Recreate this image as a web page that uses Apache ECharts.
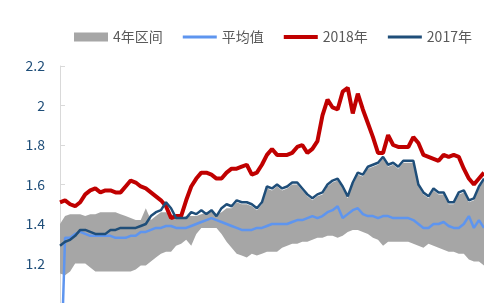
<!DOCTYPE html>
<html>
<head>
<meta charset="utf-8">
<script src="https://cdn.jsdelivr.net/npm/echarts@6/dist/echarts.min.js"></script>
<style>
  html, body { margin: 0; padding: 0; background: #fff; }
  #main { width: 484px; height: 303px; }
</style>
</head>
<body>
<div id="main"></div>
<script>
// 数据（按交易日顺序，读自原图）
var days = []
for (var d = 1; d <= 85; d++) days.push('D' + d)

var yTicks = [1.2, 1.4, 1.6, 1.8, 2, 2.2]

var rangeLow = [1.15, 1.14, 1.16, 1.20, 1.20, 1.20, 1.18, 1.16, 1.16, 1.16,
  1.16, 1.16, 1.16, 1.16, 1.16, 1.17, 1.19, 1.19, 1.21, 1.23,
  1.25, 1.26, 1.26, 1.29, 1.30, 1.32, 1.29, 1.35, 1.38, 1.38,
  1.38, 1.38, 1.35, 1.31, 1.28, 1.25, 1.24, 1.23, 1.25, 1.24,
  1.25, 1.26, 1.26, 1.26, 1.28, 1.29, 1.30, 1.30, 1.31, 1.31,
  1.32, 1.33, 1.33, 1.34, 1.34, 1.33, 1.34, 1.36, 1.37, 1.37,
  1.36, 1.35, 1.33, 1.32, 1.29, 1.31, 1.31, 1.31, 1.31, 1.31,
  1.30, 1.29, 1.28, 1.30, 1.29, 1.28, 1.27, 1.26, 1.26, 1.25,
  1.25, 1.22, 1.21, 1.21, 1.19]

var rangeHigh = [1.40, 1.44, 1.45, 1.45, 1.45, 1.44, 1.45, 1.45, 1.46, 1.46,
  1.46, 1.46, 1.45, 1.44, 1.43, 1.42, 1.42, 1.48, 1.42, 1.44,
  1.46, 1.46, 1.45, 1.44, 1.43, 1.44, 1.44, 1.44, 1.45, 1.46,
  1.47, 1.45, 1.46, 1.48, 1.48, 1.51, 1.50, 1.50, 1.49, 1.47,
  1.50, 1.58, 1.57, 1.59, 1.57, 1.58, 1.60, 1.60, 1.57, 1.54,
  1.52, 1.54, 1.55, 1.59, 1.61, 1.62, 1.58, 1.53, 1.60, 1.65,
  1.64, 1.68, 1.69, 1.70, 1.73, 1.69, 1.70, 1.68, 1.71, 1.71,
  1.71, 1.59, 1.55, 1.53, 1.57, 1.55, 1.55, 1.50, 1.50, 1.55,
  1.56, 1.51, 1.52, 1.58, 1.62]

var avgLine = [0.50, 1.33, 1.33, 1.35, 1.36, 1.35, 1.34, 1.34, 1.34, 1.34,
  1.34, 1.33, 1.33, 1.33, 1.34, 1.34, 1.36, 1.36, 1.37, 1.38,
  1.38, 1.39, 1.39, 1.38, 1.38, 1.38, 1.39, 1.40, 1.41, 1.42,
  1.43, 1.42, 1.41, 1.40, 1.39, 1.38, 1.37, 1.37, 1.37, 1.38,
  1.38, 1.39, 1.40, 1.40, 1.40, 1.40, 1.41, 1.42, 1.42, 1.43,
  1.44, 1.43, 1.44, 1.46, 1.47, 1.49, 1.43, 1.45, 1.47, 1.48,
  1.45, 1.44, 1.44, 1.43, 1.44, 1.44, 1.43, 1.43, 1.43, 1.43,
  1.42, 1.40, 1.38, 1.38, 1.40, 1.40, 1.41, 1.39, 1.38, 1.38,
  1.40, 1.44, 1.38, 1.42, 1.38]

var y2018 = [1.51, 1.52, 1.50, 1.49, 1.51, 1.55, 1.57, 1.58, 1.56, 1.57,
  1.57, 1.56, 1.56, 1.59, 1.62, 1.61, 1.59, 1.58, 1.56, 1.54,
  1.52, 1.49, 1.43, 1.44, 1.44, 1.52, 1.59, 1.63, 1.66, 1.66,
  1.65, 1.63, 1.63, 1.66, 1.68, 1.68, 1.69, 1.70, 1.65, 1.66,
  1.70, 1.75, 1.78, 1.75, 1.75, 1.75, 1.76, 1.79, 1.80, 1.76,
  1.78, 1.82, 1.95, 2.03, 1.99, 1.98, 2.07, 2.09, 1.96, 2.06,
  1.98, 1.91, 1.84, 1.76, 1.76, 1.85, 1.80, 1.79, 1.79, 1.79,
  1.84, 1.81, 1.75, 1.74, 1.73, 1.72, 1.75, 1.74, 1.75, 1.74,
  1.68, 1.63, 1.60, 1.63, 1.66]

var y2017 = [1.29, 1.31, 1.32, 1.34, 1.37, 1.37, 1.36, 1.35, 1.35, 1.35,
  1.37, 1.37, 1.38, 1.38, 1.38, 1.38, 1.39, 1.40, 1.44, 1.46,
  1.47, 1.51, 1.48, 1.43, 1.43, 1.43, 1.46, 1.45, 1.47, 1.45,
  1.47, 1.44, 1.48, 1.50, 1.49, 1.52, 1.51, 1.51, 1.50, 1.48,
  1.51, 1.59, 1.58, 1.60, 1.58, 1.59, 1.61, 1.61, 1.58, 1.55,
  1.53, 1.55, 1.56, 1.60, 1.62, 1.63, 1.59, 1.54, 1.61, 1.66,
  1.65, 1.69, 1.70, 1.71, 1.74, 1.70, 1.71, 1.69, 1.72, 1.72,
  1.72, 1.60, 1.56, 1.54, 1.58, 1.56, 1.56, 1.51, 1.51, 1.56,
  1.57, 1.52, 1.53, 1.59, 1.63]

var chartsInit = function () {
  var myChart = echarts.init(document.getElementById('main'))

  // 区间带：下沿透明 + 差值面积
  var rangeDiff = rangeHigh.map(function (v, i) {
    return +(v - rangeLow[i]).toFixed(3)
  })

  // 图例里的线段图标（不带圆点）
  var thinLine = 'path://M0,0 L34,0 L34,3 L0,3 Z'
  var thickLine = 'path://M0,0 L34,0 L34,4 L0,4 Z'

  var option = {
    animation: false,
    textStyle: {
      fontFamily: '"Noto Sans CJK SC", "Noto Sans", sans-serif'
    },
    legend: {
      left: 69,
      top: 25,
      width: 600,
      itemWidth: 34,
      itemHeight: 9,
      itemGap: 20,
      textStyle: {
        color: '#595959',
        fontSize: 14
      },
      data: [
        { name: '4年区间', icon: 'rect' },
        { name: '平均值', icon: thinLine },
        { name: '2018年', icon: thickLine },
        { name: '2017年', icon: thinLine }
      ]
    },
    grid: {
      left: 60,
      top: 66,
      right: 0,
      bottom: -6
    },
    xAxis: {
      type: 'category',
      data: days,
      boundaryGap: false,
      show: false
    },
    yAxis: {
      type: 'value',
      min: 1.0,
      max: 2.2,
      interval: 0.2,
      axisLine: {
        show: true,
        lineStyle: { color: '#d9d9d9', width: 1 }
      },
      axisTick: {
        show: true,
        inside: true,
        length: 5,
        lineStyle: { color: '#d9d9d9' }
      },
      splitLine: { show: false },
      axisLabel: {
        margin: 15,
        color: '#1f4e79',
        fontSize: 14,
        formatter: function (v) {
          var r = Math.round(v * 10) / 10
          return yTicks.indexOf(r) >= 0 ? String(r) : ''
        }
      }
    },
    series: [
      {
        name: '区间下沿',
        type: 'line',
        stack: 'band',
        data: rangeLow,
        symbol: 'none',
        lineStyle: { opacity: 0 },
        silent: true
      },
      {
        name: '4年区间',
        type: 'line',
        stack: 'band',
        data: rangeDiff,
        symbol: 'none',
        lineStyle: { opacity: 0 },
        itemStyle: { color: '#a6a6a6' },
        areaStyle: { color: '#a6a6a6', opacity: 1 }
      },
      {
        name: '平均值',
        type: 'line',
        data: avgLine,
        symbol: 'none',
        itemStyle: { color: '#5e95ef' },
        lineStyle: { color: '#5e95ef', width: 2.5 }
      },
      {
        name: '2018年',
        type: 'line',
        data: y2018,
        symbol: 'none',
        itemStyle: { color: '#c00000' },
        lineStyle: { color: '#c00000', width: 4 }
      },
      {
        name: '2017年',
        type: 'line',
        data: y2017,
        symbol: 'none',
        itemStyle: { color: '#1f4e79' },
        lineStyle: { color: '#1f4e79', width: 2.5 }
      }
    ]
  }

  myChart.setOption(option)
}

chartsInit()
</script>
</body>
</html>
